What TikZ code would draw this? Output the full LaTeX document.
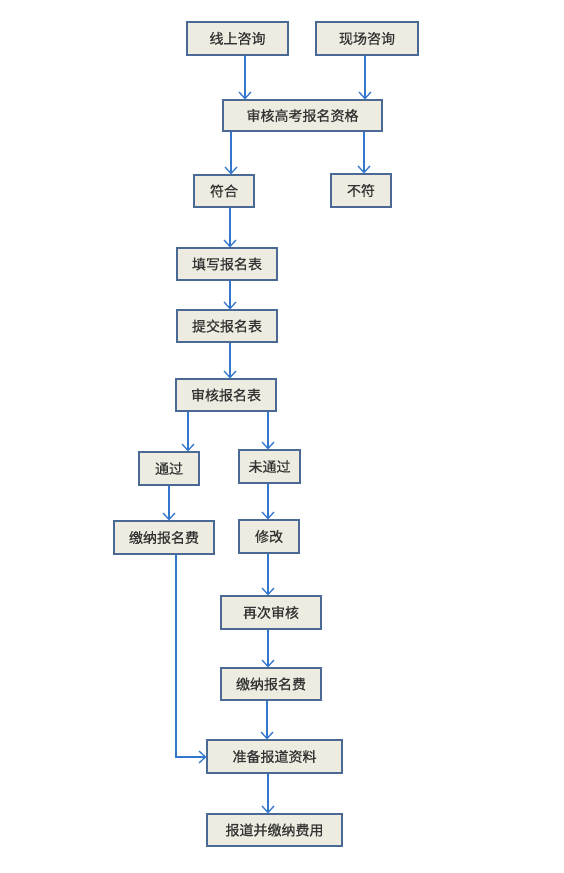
\documentclass[tikz,border=0pt]{standalone}
\usepackage{fontspec}
\setmainfont{Liberation Serif}
\newfontfamily\cjk[FakeBold=0.6]{Noto Sans CJK SC}
\usetikzlibrary{arrows.meta}
\definecolor{boxfill}{HTML}{EEECE1}
\definecolor{boxline}{HTML}{4A6A95}
\definecolor{arrowc}{HTML}{3377CC}
\begin{document}
\begin{tikzpicture}[x=1pt,y=-1pt,
  stepbox/.style={draw=boxline,fill=boxfill,line width=1.1pt,inner sep=0pt,
    font=\cjk\fontsize{14}{15}\selectfont,text=black!80,minimum height=33pt},
  arr/.style={draw=arrowc,line width=1.3pt,-{Straight Barb[length=6.5pt,width=12pt,line width=1.3pt]}}]
\useasboundingbox (0,0) rectangle (564,873);
\node[stepbox,minimum width=101pt] (q1) at (237.5,38.5) {线上咨询};
\node[stepbox,minimum width=102pt] (q2) at (367,38.5) {现场咨询};
\node[stepbox,minimum width=159pt,minimum height=31pt] (sh) at (302.5,115.5) {审核高考报名资格};
\node[stepbox,minimum width=60pt,minimum height=32pt] (fh) at (224,191) {符合};
\node[stepbox,minimum width=60pt] (bf) at (361,190.5) {不符};
\node[stepbox,minimum width=100pt,minimum height=32pt] (tx) at (227,264) {填写报名表};
\node[stepbox,minimum width=100pt,minimum height=32pt] (tj) at (227,326) {提交报名表};
\node[stepbox,minimum width=100pt,minimum height=32pt] (sb) at (226,395) {审核报名表};
\node[stepbox,minimum width=60pt] (tg) at (169,468.5) {通过};
\node[stepbox,minimum width=61pt] (wt) at (269.5,466.5) {未通过};
\node[stepbox,minimum width=100pt] (jn1) at (164,537.5) {缴纳报名费};
\node[stepbox,minimum width=60pt] (xg) at (269,536.5) {修改};
\node[stepbox,minimum width=100pt] (zc) at (271,612.5) {再次审核};
\node[stepbox,minimum width=100pt,minimum height=32pt] (jn2) at (271,684) {缴纳报名费};
\node[stepbox,minimum width=135pt] (zb) at (274.5,756.5) {准备报道资料};
\node[stepbox,minimum width=135pt,minimum height=32pt] (bd) at (274.5,830) {报道并缴纳费用};

\draw[arr] (q1.south -| 245,0) -- (sh.north -| 245,0);
\draw[arr] (q2.south -| 365,0) -- (sh.north -| 365,0);
\draw[arr] (sh.south -| 231,0) -- (fh.north -| 231,0);
\draw[arr] (sh.south -| 364,0) -- (bf.north -| 364,0);
\draw[arr] (fh.south -| 230,0) -- (tx.north -| 230,0);
\draw[arr] (tx.south -| 230,0) -- (tj.north -| 230,0);
\draw[arr] (tj.south -| 230,0) -- (sb.north -| 230,0);
\draw[arr] (sb.south -| 188,0) -- (tg.north -| 188,0);
\draw[arr] (sb.south -| 268,0) -- (wt.north -| 268,0);
\draw[arr] (tg.south -| 169,0) -- (jn1.north -| 169,0);
\draw[arr] (wt.south -| 268,0) -- (xg.north -| 268,0);
\draw[arr] (xg.south -| 268,0) -- (zc.north -| 268,0);
\draw[arr] (zc.south -| 268,0) -- (jn2.north -| 268,0);
\draw[arr] (jn2.south -| 267,0) -- (zb.north -| 267,0);
\draw[arr] (jn1.south -| 176,0) -- (176,757) -- (zb.west |- 0,757);
\draw[arr] (zb.south -| 268,0) -- (bd.north -| 268,0);
\end{tikzpicture}
\end{document}
